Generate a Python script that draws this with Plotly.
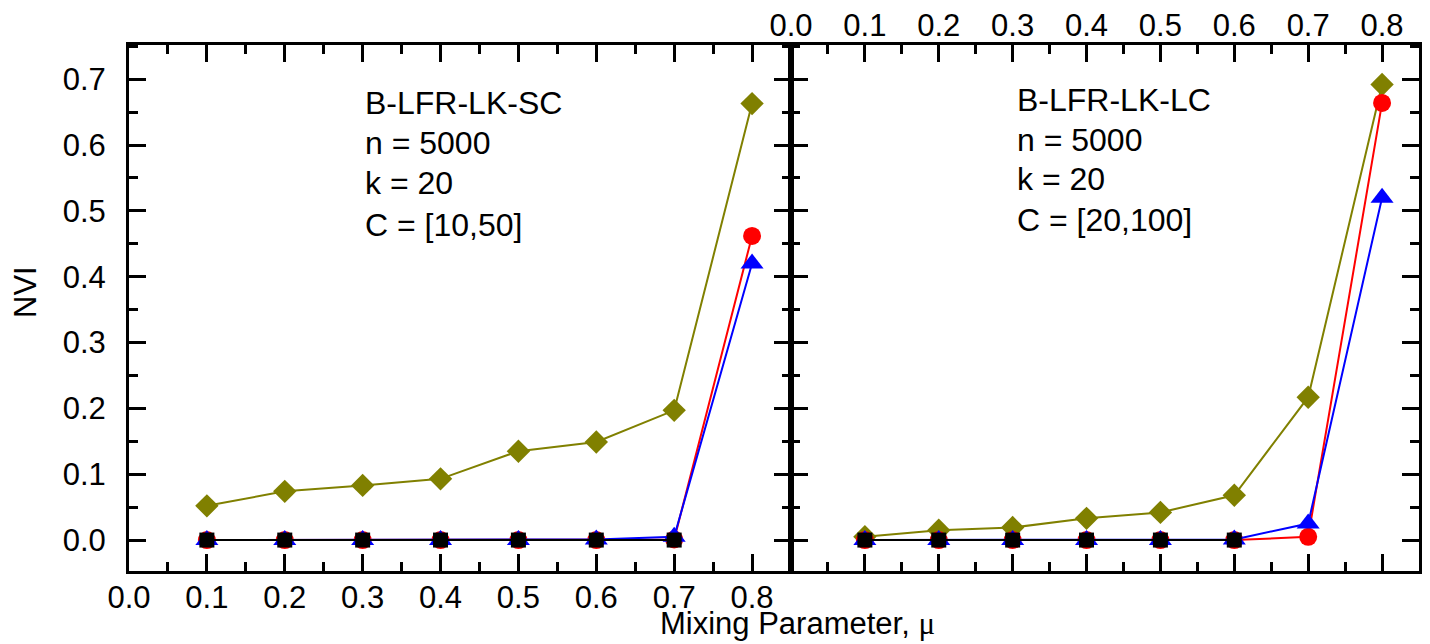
import plotly.graph_objects as go

mu = [0.1, 0.2, 0.3, 0.4, 0.5, 0.6, 0.7, 0.8]

# Left panel: B-LFR-LK-SC
olive_L = [0.052, 0.074, 0.083, 0.093, 0.135, 0.149, 0.197, 0.663]
red_L = [0.0, 0.0, 0.0, 0.0, 0.0, 0.0, 0.001, 0.462]
blue_L = [0.0, 0.0, 0.0, 0.0, 0.0, 0.001, 0.005, 0.420]
black_L = [0.0, 0.0, 0.0, 0.0, 0.0, 0.0, 0.0, None]

# Right panel: B-LFR-LK-LC
olive_R = [0.005, 0.015, 0.019, 0.033, 0.042, 0.068, 0.217, 0.692]
red_R = [0.0, 0.0, 0.0, 0.0, 0.0, 0.0, 0.005, 0.664]
blue_R = [0.0, 0.0, 0.0, 0.0, 0.0, 0.001, 0.025, 0.520]
black_R = [0.0, 0.0, 0.0, 0.0, 0.0, 0.0, None, None]

xticks = [0.0, 0.1, 0.2, 0.3, 0.4, 0.5, 0.6, 0.7, 0.8]
xticktext = ["0.0", "0.1", "0.2", "0.3", "0.4", "0.5", "0.6", "0.7", "0.8"]
yticks = [0.0, 0.1, 0.2, 0.3, 0.4, 0.5, 0.6, 0.7]
yticktext = ["0.0", "0.1", "0.2", "0.3", "0.4", "0.5", "0.6", "0.7"]

label_L = ["B-LFR-LK-SC", "n = 5000", "k = 20", "C = [10,50]"]
label_R = ["B-LFR-LK-LC", "n = 5000", "k = 20", "C = [20,100]"]

OLIVE = "#808000"
RED = "#ff0000"
BLUE = "#0000ff"
BLACK = "#000000"
FONT = "Liberation Sans, Arial, sans-serif"

W, H = 1430, 644

fig = go.Figure()

def add_series(x, y, color, symbol, size, xa, ya):
    fig.add_trace(go.Scatter(
        x=x, y=y, mode="lines+markers",
        line=dict(color=color, width=2),
        marker=dict(color=color, symbol=symbol, size=size, line=dict(width=0)),
        xaxis=xa, yaxis=ya, showlegend=False, connectgaps=False,
    ))

for (o, r, b, k, xa, ya) in [(olive_L, red_L, blue_L, black_L, "x", "y"),
                             (olive_R, red_R, blue_R, black_R, "x2", "y2")]:
    add_series(mu, o, OLIVE, "diamond", 18, xa, ya)
    add_series(mu, r, RED, "circle", 18, xa, ya)
    add_series(mu, b, BLUE, "triangle-up", 20, xa, ya)
    add_series(mu, k, BLACK, "square", 15, xa, ya)

# empty helper traces so the label-only axes are drawn
fig.add_trace(go.Scatter(x=[None], y=[None], xaxis="x3", yaxis="y", showlegend=False, hoverinfo="skip"))
fig.add_trace(go.Scatter(x=[None], y=[None], xaxis="x4", yaxis="y2", showlegend=False, hoverinfo="skip"))

x0L, x1L, x1R = 129, 791, 1419
yTop, yBot = 45, 571

common_axis = dict(
    showgrid=False, zeroline=False, showline=True, linecolor="black", linewidth=3,
    ticks="inside", ticklen=17, tickwidth=2.5, tickcolor="black", mirror="ticks",
    tickfont=dict(family=FONT, size=31, color="black"), automargin=False,
)
minor = dict(ticks="inside", ticklen=9, tickwidth=2.5, tickcolor="black", dtick=0.05, showgrid=False)
label_axis = dict(
    showgrid=False, zeroline=False, showline=False, ticks="", range=[0, 0.85],
    tickvals=xticks, ticktext=xticktext, automargin=False, anchor="free",
    tickfont=dict(family=FONT, size=31, color="black"), ticklabelstandoff=0,
)

fig.update_layout(
    width=W, height=H, margin=dict(l=0, r=0, t=0, b=0, autoexpand=False),
    plot_bgcolor="white", paper_bgcolor="white",
    xaxis=dict(common_axis, domain=[x0L / W, x1L / W], range=[0, 0.85],
               tickvals=xticks, side="bottom", showticklabels=False,
               minor=dict(minor, tick0=0.05), anchor="y"),
    yaxis=dict(common_axis, domain=[1 - yBot / H, 1 - yTop / H], range=[-0.047, 0.752],
               tickvals=yticks, ticktext=yticktext, side="left",
               minor=dict(minor, tick0=0.05), ticklabelstandoff=14, anchor="x"),
    xaxis2=dict(common_axis, domain=[x1L / W, x1R / W], range=[0, 0.85],
                tickvals=xticks, side="top", showticklabels=False,
                minor=dict(minor, tick0=0.05), anchor="y2"),
    yaxis2=dict(common_axis, domain=[1 - yBot / H, 1 - yTop / H], range=[-0.047, 0.752],
                tickvals=yticks, side="right", showticklabels=False,
                minor=dict(minor, tick0=0.05), anchor="x2"),
    xaxis3=dict(label_axis, domain=[x0L / W, x1L / W], side="bottom", overlaying="x",
                position=1 - (yBot + 5) / H),
    xaxis4=dict(label_axis, domain=[x1L / W, x1R / W], side="top", overlaying="x2",
                position=1 - (yTop - 3) / H),
)

annotations = []
line_y_L = [103, 143, 183, 225]
line_y_R = [100, 140, 179, 220]
for txt, yy in zip(label_L, line_y_L):
    annotations.append(dict(text=txt, x=363 / W, y=1 - yy / H, xref="paper", yref="paper",
                            xanchor="left", yanchor="middle", showarrow=False,
                            font=dict(family=FONT, size=32, color="black")))
for txt, yy in zip(label_R, line_y_R):
    annotations.append(dict(text=txt, x=1015 / W, y=1 - yy / H, xref="paper", yref="paper",
                            xanchor="left", yanchor="middle", showarrow=False,
                            font=dict(family=FONT, size=32, color="black")))
annotations.append(dict(
    text="Mixing Parameter, <span style='font-family:Liberation Serif, Times New Roman, serif'>μ</span>",
    x=797 / W, y=1 - 623 / H, xref="paper", yref="paper", xanchor="center", yanchor="middle",
    showarrow=False, font=dict(family=FONT, size=31, color="black")))
annotations.append(dict(
    text="NVI", x=25 / W, y=1 - 292 / H, xref="paper", yref="paper", xanchor="center", yanchor="middle",
    textangle=-90, showarrow=False, font=dict(family=FONT, size=31, color="black")))
fig.update_layout(annotations=annotations)

fig.write_html("out.html", config={"displayModeBar": False},
               post_script="document.body.style.margin='0px';document.body.style.overflow='hidden';")
